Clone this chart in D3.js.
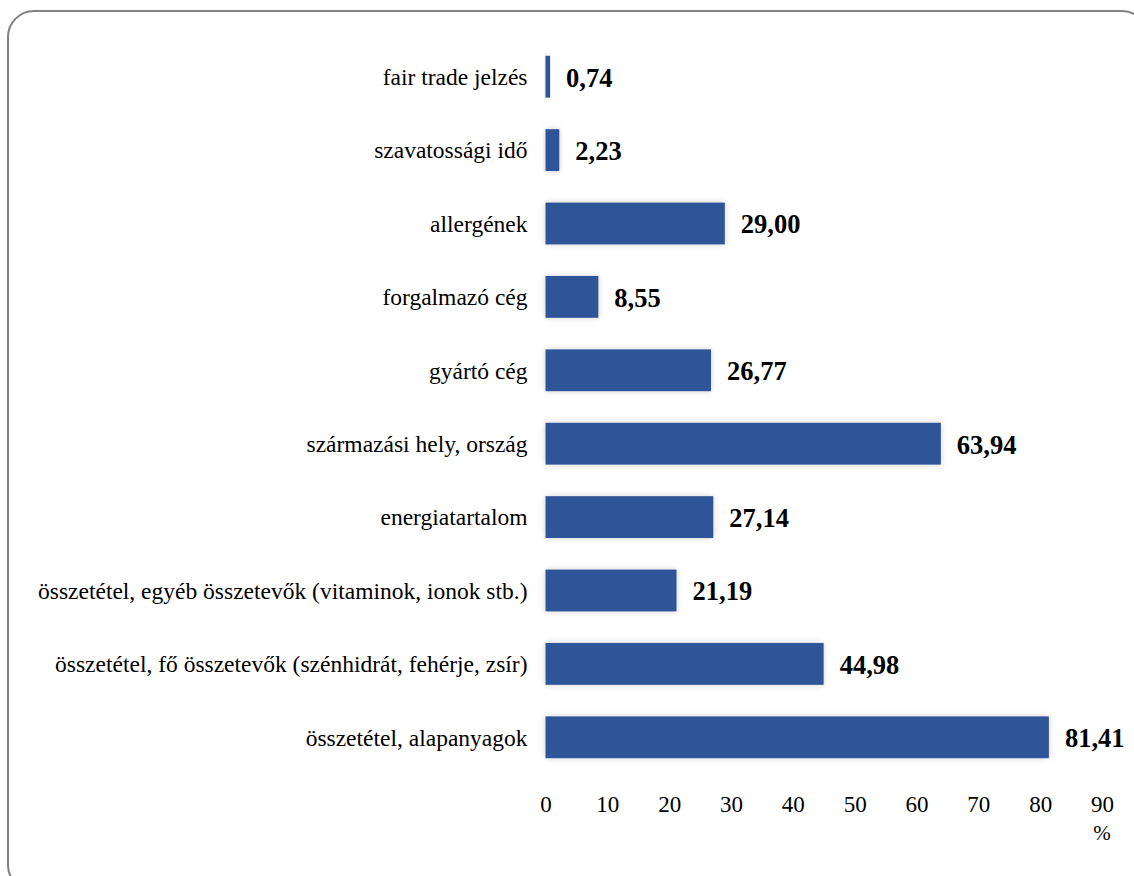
<!DOCTYPE html>
<html>
<head>
<meta charset="utf-8">
<script src="https://cdn.jsdelivr.net/npm/d3@7/dist/d3.min.js"></script>
<style>
  html, body { margin: 0; padding: 0; background: #fff; }
  svg { display: block; }
  svg text { font-family: "Liberation Serif", "Times New Roman", Times, serif; }
</style>
</head>
<body>
<svg id="chart" width="1134" height="876"></svg>
<script>
// Categories, top to bottom
const categories = [
  "fair trade jelzés",
  "szavatossági idő",
  "allergének",
  "forgalmazó cég",
  "gyártó cég",
  "származási hely, ország",
  "energiatartalom",
  "összetétel, egyéb összetevők (vitaminok, ionok stb.)",
  "összetétel, fő összetevők (szénhidrát, fehérje, zsír)",
  "összetétel, alapanyagok"
];
// Share of respondents (%)
const values = [0.74, 2.23, 29.00, 8.55, 26.77, 63.94, 27.14, 21.19, 44.98, 81.41];
const ticks = [0, 10, 20, 30, 40, 50, 60, 70, 80, 90];
const unitLabel = "%";

const svg = d3.select("#chart");

// Rounded frame
svg.append("rect")
  .attr("x", 8).attr("y", 11)
  .attr("width", 1140).attr("height", 880)
  .attr("rx", 26).attr("ry", 26)
  .attr("fill", "#fff")
  .attr("stroke", "#808080")
  .attr("stroke-width", 2);

// Soft shadow behind bars
const defs = svg.append("defs");
const f = defs.append("filter").attr("id", "shadow")
  .attr("x", "-20%").attr("y", "-30%").attr("width", "140%").attr("height", "160%");
f.append("feDropShadow")
  .attr("dx", 0).attr("dy", 0).attr("stdDeviation", 3)
  .attr("flood-color", "#000").attr("flood-opacity", 0.18);

const x = d3.scaleLinear().domain([0, 90]).range([545.5, 1102]);
const y = d3.scaleBand().domain(categories).range([40, 774]).paddingInner(0.43).paddingOuter(0.215);

const data = categories.map((c, i) => ({ cat: c, val: values[i] }));

svg.append("g").selectAll("rect")
  .data(data).join("rect")
  .attr("x", x(0))
  .attr("y", d => y(d.cat))
  .attr("width", d => x(d.val) - x(0))
  .attr("height", y.bandwidth())
  .attr("fill", "#2F5597")
  .attr("filter", "url(#shadow)");

// Category labels
svg.append("g").selectAll("text")
  .data(data).join("text")
  .attr("x", x(0) - 18)
  .attr("y", d => y(d.cat) + y.bandwidth() / 2)
  .attr("dy", "0.35em")
  .attr("text-anchor", "end")
  .style("font-size", "23.5px")
  .attr("fill", "#000")
  .text(d => d.cat);

// Value labels
const fmt = v => v.toFixed(2).replace(".", ",");
svg.append("g").selectAll("text")
  .data(data).join("text")
  .attr("x", d => x(d.val) + 16)
  .attr("y", d => y(d.cat) + y.bandwidth() / 2)
  .attr("dy", "0.37em")
  .style("font-size", "26.5px")
  .style("font-weight", "bold")
  .attr("fill", "#000")
  .text(d => fmt(d.val));

// X axis (labels only)
const axis = d3.axisBottom(x).tickValues(ticks).tickSize(0).tickPadding(0);
const gx = svg.append("g").attr("transform", "translate(0,796)").call(axis);
gx.attr("font-family", null).attr("font-size", null);
gx.select(".domain").remove();
gx.selectAll("text")
  .style("font-size", "23px")
  .attr("fill", "#000")
  .attr("dy", "0.35em")
  .attr("y", 8);

svg.append("text")
  .attr("x", x(90))
  .attr("y", 833)
  .attr("dy", "0.35em")
  .attr("text-anchor", "middle")
  .style("font-size", "21px")
  .attr("fill", "#000")
  .text(unitLabel);
</script>
</body>
</html>
